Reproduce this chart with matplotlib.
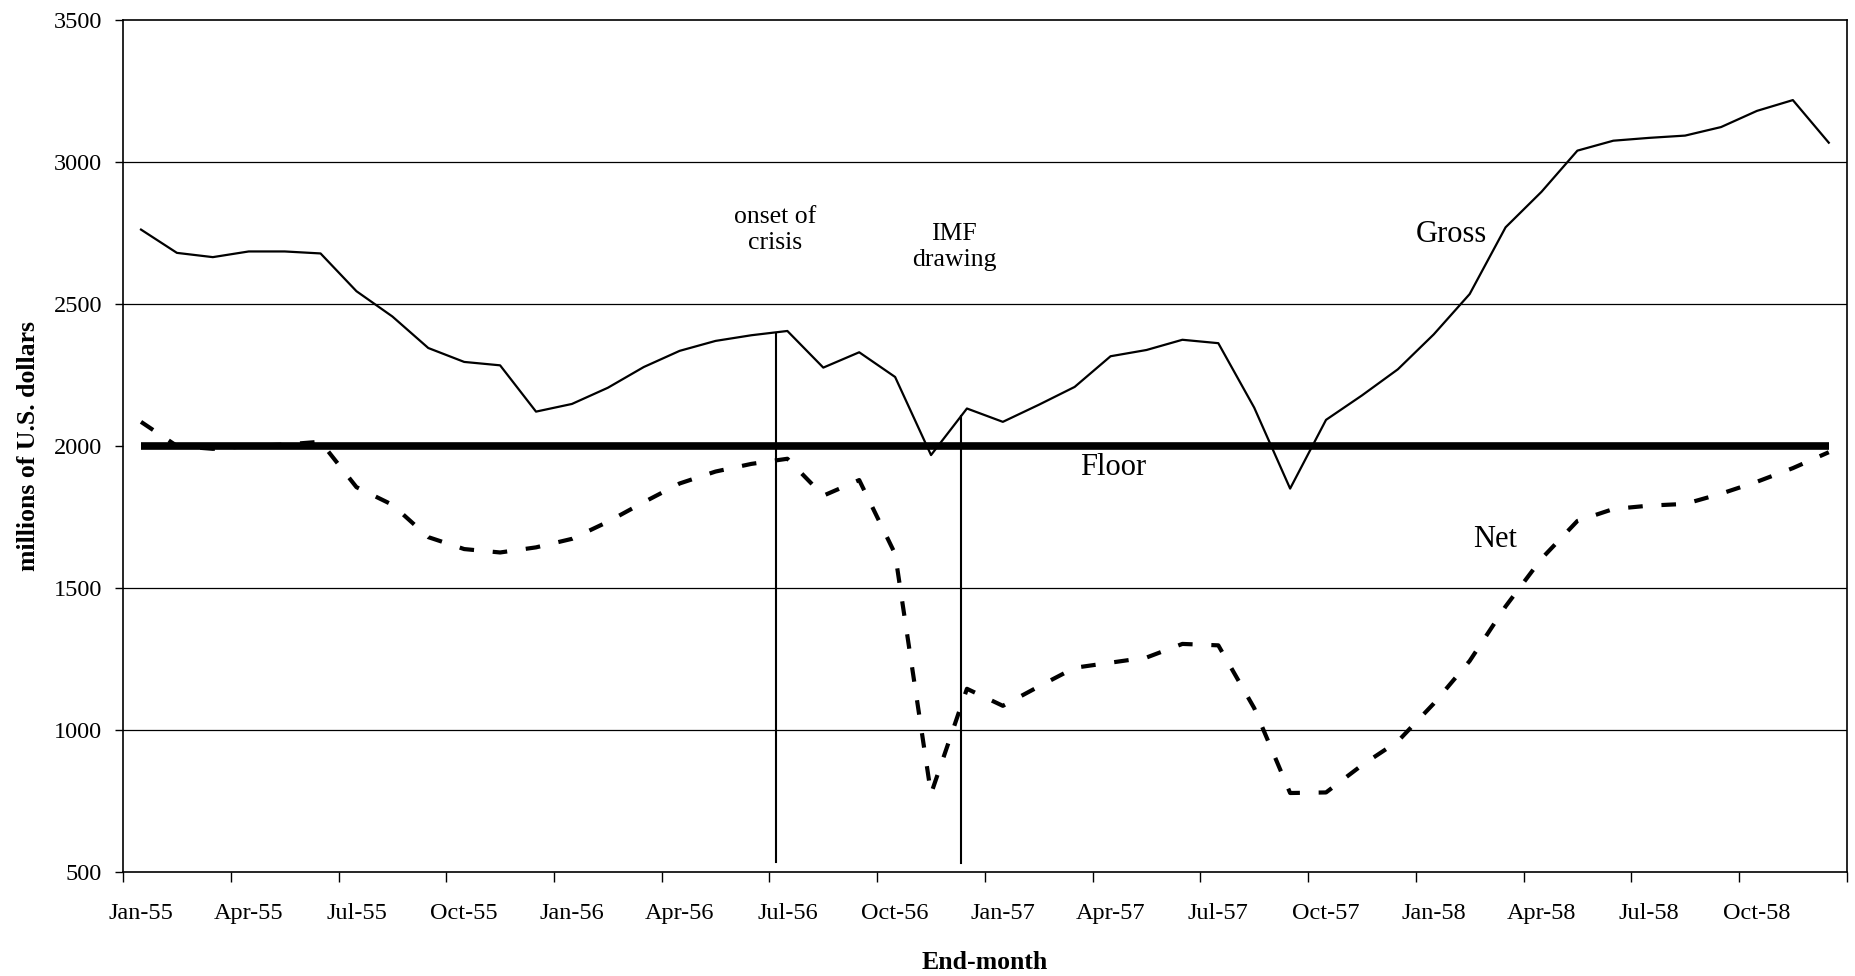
import numpy as np
import matplotlib
matplotlib.use("Agg")
import matplotlib.pyplot as plt

plt.rcParams['font.family'] = ['Liberation Serif', 'DejaVu Serif']

# end-month reserves, Jan-55 .. Dec-58 (48 months), millions of US dollars
months = [f"{m}-{y}" for y in ["55", "56", "57", "58"]
          for m in ["Jan", "Feb", "Mar", "Apr", "May", "Jun",
                    "Jul", "Aug", "Sep", "Oct", "Nov", "Dec"]]
gross = [2762, 2680, 2665, 2685, 2685, 2678, 2545, 2456, 2345, 2296, 2284, 2121,
         2148, 2205, 2278, 2335, 2370, 2390, 2405, 2276, 2330, 2243, 1968, 2132,
         2085, 2145, 2208, 2316, 2338, 2374, 2362, 2135, 1850, 2092, 2178, 2270,
         2393, 2535, 2770, 2895, 3040, 3075, 3085, 3093, 3123, 3180, 3218, 3068]
net = [2085, 2000, 1990, 2000, 2005, 2015, 1855, 1793, 1679, 1637, 1625, 1643,
       1673, 1733, 1802, 1868, 1910, 1937, 1955, 1825, 1880, 1620, 775, 1145,
       1085, 1153, 1219, 1237, 1255, 1303, 1298, 1077, 778, 780, 876, 960,
       1093, 1243, 1435, 1603, 1736, 1778, 1790, 1796, 1832, 1874, 1922, 1978]
floor = [2000] * 48

# event markers: (x position in months, top value, bottom value)
onset = (17.67, 2398, 535)
imf = (22.84, 2105, 530)

x = np.arange(len(months))

fig = plt.figure(figsize=(18.56, 9.76), dpi=100)
ax = fig.add_axes([0.0663, 0.1066, 0.9287, 0.8729])

for g in [1000, 1500, 2500, 3000]:
    ax.axhline(g, color='black', lw=0.9, zorder=1)

ax.plot(x, gross, color='black', lw=1.6, zorder=3)
ax.plot(x, floor, color='black', lw=5.5, solid_capstyle='butt', zorder=4)
ax.plot(x, net, color='black', lw=3.0, dashes=(3.5, 4.5), zorder=5)

for xe, top, bot in [onset, imf]:
    ax.plot([xe, xe], [bot, top], color='black', lw=1.5, zorder=2)

ax.text(onset[0], 2760, "onset of\ncrisis", ha='center', va='center', fontsize=18.5, linespacing=1.25)
ax.text(imf[0] - 0.2, 2700, "IMF\ndrawing", ha='center', va='center', fontsize=18.5, linespacing=1.25)
ax.text(36.5, 2745, "Gross", ha='center', va='center', fontsize=22)
ax.text(27.06, 1925, "Floor", ha='center', va='center', fontsize=22)
ax.text(37.7, 1672, "Net", ha='center', va='center', fontsize=22)

ax.set_xlim(-0.5, 47.5)
ax.set_ylim(500, 3500)
ax.set_yticks(np.arange(500, 3501, 500))
ax.set_xticks(np.arange(-0.5, 48, 3))
ax.set_xticklabels([])
ax.set_xticks(np.arange(0, 48, 3), minor=True)
ax.set_xticklabels(months[::3], minor=True)
ax.tick_params(axis='x', which='major', direction='out', length=7, width=1)
ax.tick_params(axis='x', which='minor', length=0, pad=22, labelsize=17.5)
ax.tick_params(axis='y', direction='out', length=6, width=1, pad=9, labelsize=17.5)

for s in ax.spines.values():
    s.set_color('black')
    s.set_linewidth(1.2)

ax.set_xlabel("End-month", fontsize=18.5, fontweight='bold', labelpad=20)
ax.set_ylabel("millions of U.S. dollars", fontsize=18.5, fontweight='bold', labelpad=10)

fig.savefig("out.png", dpi=100)
